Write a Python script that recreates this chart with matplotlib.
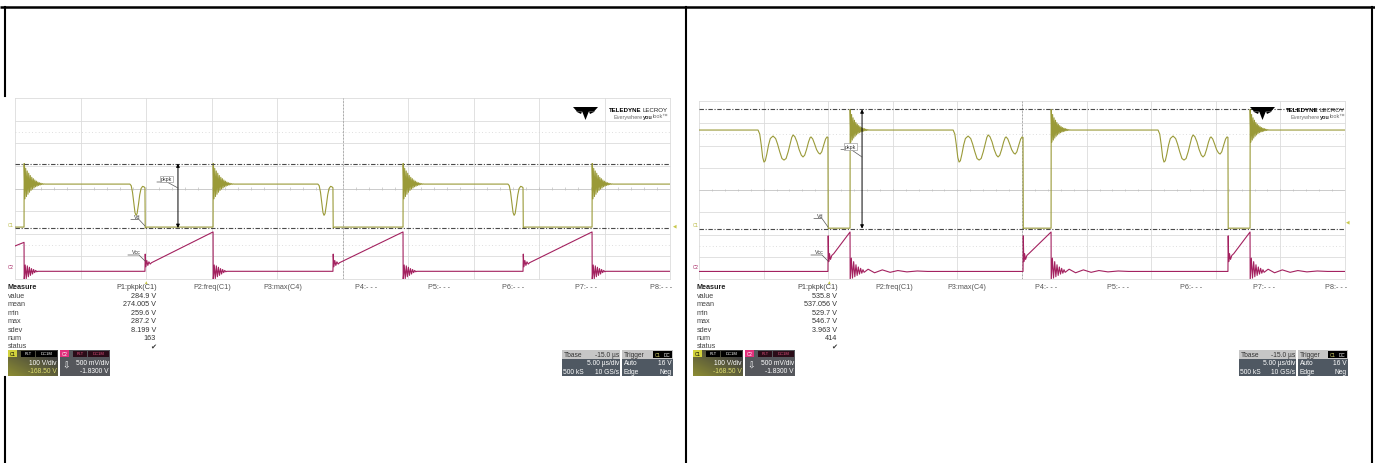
import numpy as np
import matplotlib
matplotlib.use("Agg")
import matplotlib.pyplot as plt
from matplotlib.patches import Rectangle, Polygon

plt.rcParams["font.family"] = ["Liberation Sans", "DejaVu Sans"]

W, H = 1375, 464

# ---- scope settings (both captures) ----
C1_VDIV, C1_OFFSET = 100.0, -168.50      # V/div, V
C2_VDIV, C2_OFFSET = 0.5, -1.8300        # V/div, V
T_DIV = 5.0                              # us/div, 10 divisions

# ---- left capture : C1 switch node, C2 Vcc ----
L_RISE = [0.69, 15.12, 29.62, 44.05]
L_FALL = [9.92, 24.27, 38.78]
L_C1_HIGH, L_C1_LOW, L_C1_MIN = 188.0, -2.0, -6.0
L_C1_RING = [90.9, -65, 70, -55, 58, -45, 48, -36, 38, -28, 30, -22, 24, -17,
             18, -12, 13, -9, 9, -6, 6, -4, 4, -2, 2, -1, 1, 0]
L_DIP_DT = [-1.15, -1.05, -0.95, -0.85, -0.76, -0.68, -0.60, -0.50, -0.40, -0.30, -0.18, -0.08, 0.0]
L_DIP_V = [188, 181, 152, 104, 62, 50, 58, 96, 140, 168, 178, 176, 172]
L_C2_START_T, L_C2_START_V = [0.0], [0.56]
L_C2_PEAK = [0.64, 0.87, 0.87, 0.87]
L_C2_FALL_DT = [0.0, 0.02, 0.07, 0.14, 0.22, 0.30, 0.40, 0.50]
L_C2_FALL_V = [0.0, 0.38, 0.10, 0.24, 0.13, 0.21, 0.16, 0.19]
L_C2_RING = [-0.22, 0.14, -0.16, 0.12, -0.12, 0.09, -0.09, 0.06, -0.06, 0.04, -0.03, 0.02, -0.01, 0.0]
L_STATS = ["284.9 V", "274.005 V", "259.6 V", "287.2 V", "8.199 V", "163", "\u2714"]

# ---- right capture ----
R_RISE = [11.69, 27.25, 42.65]
R_FALL = [9.98, 25.08, 40.94]
R_C1_HIGH, R_C1_LOW, R_C1_MIN = 438.0, -3.0, -5.0
R_C1_RING = [92.8, -54, 70, -45, 55, -36, 44, -28, 34, -22, 26, -16, 20, -12,
             15, -9, 11, -7, 8, -5, 6, -3, 4, -2, 2, -1, 1, 0]
R_OSC_DT = [-5.41, -5.28, -5.16, -5.05, -4.95, -4.85, -4.73, -4.60, -4.46, -4.25,
            -4.05, -3.90, -3.73, -3.56, -3.40, -3.24, -3.08, -2.93, -2.80, -2.70,
            -2.56, -2.40, -2.23, -2.06, -1.93, -1.80, -1.66, -1.50, -1.38, -1.31,
            -1.18, -1.03, -0.88, -0.73, -0.61, -0.48, -0.33, -0.18, -0.07, 0.0]
R_OSC_V = [438, 420, 370, 315, 294, 300, 330, 370, 400, 411,
           400, 375, 340, 310, 303, 310, 340, 375, 405, 416,
           408, 385, 350, 325, 317, 325, 350, 385, 404, 407,
           398, 375, 350, 335, 330, 340, 370, 398, 407, 405]
R_C2_START_T, R_C2_START_V = [0.0], [0.0]
R_C2_PEAK = [0.886, 0.886, 0.886]
R_C2_FALL_DT = [0.0, 0.02, 0.06, 0.12, 0.20, 0.30, 0.45]
R_C2_FALL_V = [0.0, 0.80, 0.22, 0.40, 0.27, 0.36, 0.40]
R_C2_RING = [-0.22, 0.30, -0.15, 0.22, -0.12, 0.15, -0.09, 0.10, -0.06, 0.07, -0.04, 0.04, -0.02]
R_C2_RIP_DT = [1.4, 1.9, 2.5, 3.1, 3.7, 4.4, 5.2, 6.0]
R_C2_RIP_V = [0.05, -0.03, 0.035, -0.02, 0.02, -0.01, 0.01, 0.0]
R_STATS = ["535.8 V", "537.056 V", "529.7 V", "546.7 V", "3.963 V", "414", "\u2714"]

STAT_NAMES = ["value", "mean", "min", "max", "sdev", "num", "status"]
PARAMS = ["P1:pkpk(C1)", "P2:freq(C1)", "P3:max(C4)", "P4:- - -", "P5:- - -",
          "P6:- - -", "P7:- - -", "P8:- - -"]

YEL = "#9a9a38"
MAG = "#a3215f"


def build_c1(rise, fall, start, high, low, vmin, ring, ring_dt, tdt, tv):
    t, v = [0.0], [start]
    ev = sorted([(x, "r") for x in rise] + [(x, "f") for x in fall])
    for te, kind in ev:
        if kind == "r":
            t += [te, te + 0.01]
            v += [low, high + ring[0]]
            for i, a in enumerate(ring[1:], 1):
                t.append(te + 0.01 + i * ring_dt)
                v.append(high + a)
        else:
            t += [te + d for d in tdt]
            v += list(tv)
            t += [te + 0.02, te + 0.12]
            v += [vmin, low]
    t.append(50.0)
    v.append(v[-1])
    return np.array(t), np.array(v)


def build_c2(rise, fall, st, sv, peaks, fdt, fv, ring, ring_dt, rdt=(), rv=()):
    t, v = list(st), list(sv)
    ev = sorted([(x, "r") for x in rise] + [(x, "f") for x in fall])
    k = 0
    for te, kind in ev:
        if kind == "f":
            t += [te + d for d in fdt]
            v += list(fv)
        else:
            t.append(te)
            v.append(peaks[k])
            k += 1
            for i, a in enumerate(ring):
                t.append(te + 0.01 + i * ring_dt)
                v.append(a)
            t += [te + d for d in rdt]
            v += list(rv)
    t.append(50.0)
    v.append(0.0)
    return np.array(t), np.array(v)


fig = plt.figure(figsize=(W / 100, H / 100), dpi=100)
fig.patch.set_facecolor("white")


def page_axes():
    a = fig.add_axes([0, 0, 1, 1], facecolor="none")
    a.set_xlim(0, W)
    a.set_ylim(H, 0)
    a.axis("off")
    return a


def px_rect(x0, y0, x1, y1):
    return [x0 / W, 1 - y1 / H, (x1 - x0) / W, (y1 - y0) / H]


bg = page_axes()
# table borders
bg.plot([0, W], [8, 8], color="black", lw=1.8, solid_capstyle="butt")
bg.plot([5, 5], [8, 97], color="black", lw=1.5)
bg.plot([5, 5], [378, H], color="black", lw=1.5)
bg.plot([686, 686], [8, H], color="black", lw=1.5)
bg.plot([1372, 1372], [8, H], color="black", lw=1.5)


def scope(x0, y0, x1, y1):
    rect = px_rect(x0, y0, x1, y1)
    g = fig.add_axes(rect, facecolor="none")
    g.set_xlim(0, 10)
    g.set_ylim(0, 8)
    g.axis("off")
    for i in range(11):
        g.plot([i, i], [0, 8], color="#dcdcdc", lw=0.6, clip_on=False)
    for j in range(9):
        g.plot([0, 10], [j, j], color="#dcdcdc", lw=0.6, clip_on=False)
    g.plot([5, 5], [0, 8], color="#a0a0a0", lw=0.6, ls=(0, (2, 2)))
    g.plot([0, 10], [4, 4], color="#c8c8c8", lw=0.6)
    g.vlines(np.arange(0.2, 10, 0.2), 3.95, 4.05, color="#c0c0c0", lw=0.5)
    for yy in (1.5, 6.5):
        g.plot([0, 10], [yy, yy], color="#d4d4d4", lw=0.6, ls=(0, (1, 3)))
    c1 = fig.add_axes(rect, facecolor="none")
    c1.set_xlim(0, 10 * T_DIV)
    c1.set_ylim(-C1_OFFSET - 4 * C1_VDIV, -C1_OFFSET + 4 * C1_VDIV)
    c1.axis("off")
    c2 = fig.add_axes(rect, facecolor="none")
    c2.set_xlim(0, 10 * T_DIV)
    c2.set_ylim(-C2_OFFSET - 4 * C2_VDIV, -C2_OFFSET + 4 * C2_VDIV)
    c2.axis("off")
    return c1, c2


def draw_traces(c1, c2, t1, v1, t2, v2, t_arrow):
    c2.plot(t2, v2, color=MAG, lw=0.8)
    c1.plot(t1, v1, color=YEL, lw=0.8)
    hi, lo = v1.max(), v1.min()
    for lvl in (hi, lo):
        c1.axhline(lvl, color="#4a4a4a", lw=0.8, ls=(0, (4, 1.5, 1, 1.5)))
    c1.annotate("", xy=(t_arrow, hi), xytext=(t_arrow, lo),
                arrowprops=dict(arrowstyle="<|-|>", color="black", lw=0.7,
                                mutation_scale=5, shrinkA=0, shrinkB=0))


# left capture
lc1, lc2 = scope(15, 99, 670, 280)
t, v = build_c1(L_RISE, L_FALL, L_C1_LOW, L_C1_HIGH, L_C1_LOW, L_C1_MIN,
                L_C1_RING, 0.058, L_DIP_DT, L_DIP_V)
t2, v2 = build_c2(L_RISE, L_FALL, L_C2_START_T, L_C2_START_V, L_C2_PEAK,
                  L_C2_FALL_DT, L_C2_FALL_V, L_C2_RING, 0.08)
draw_traces(lc1, lc2, t, v, t2, v2, 12.44)

# right capture
rc1, rc2 = scope(699, 102, 1345, 280)
t, v = build_c1(R_RISE, R_FALL, R_C1_HIGH, R_C1_HIGH, R_C1_LOW, R_C1_MIN,
                R_C1_RING, 0.055, R_OSC_DT, R_OSC_V)
t2, v2 = build_c2(R_RISE, R_FALL, R_C2_START_T, R_C2_START_V, R_C2_PEAK,
                  R_C2_FALL_DT, R_C2_FALL_V, R_C2_RING, 0.09, R_C2_RIP_DT, R_C2_RIP_V)
draw_traces(rc1, rc2, t, v, t2, v2, 12.62)

fg = page_axes()
FS = 5.2


def tag(x, y, s, ha="left", color="#333333", fs=4.0, **kw):
    fg.text(x, y, s, ha=ha, va="center", color=color, fontsize=fs, **kw)


def leader(pts):
    xs, ys = zip(*pts)
    fg.plot(xs, ys, color="#555555", lw=0.5)


def cursor_labels(dx, pk, vd, vcc, trig_x, right_mark):
    # pkpk, Vd and Vcc marker labels with leader lines
    tag(pk[0], pk[1], "pkpk", fs=3.8,
        bbox=dict(boxstyle="square,pad=0.15", fc="white", ec="#8a8a8a", lw=0.4))
    leader([(pk[0] - 4, pk[1] + 3), (pk[0] + 6, pk[1] + 3), pk[2]])
    tag(vd[0], vd[1], "Vd", fs=3.8)
    leader([(vd[0] - 3, vd[1] + 3), (vd[0] + 5, vd[1] + 3), vd[2]])
    tag(vcc[0], vcc[1], "Vcc", fs=3.8)
    leader([(vcc[0] - 4, vcc[1] + 3), (vcc[0] + 7, vcc[1] + 3), vcc[2]])
    tag(dx + 10.5, 225.5, "C1", ha="center", color="#b8b840", fs=3.3)
    tag(dx + 10.5, 268, "C2", ha="center", color=MAG, fs=3.3)
    tag(trig_x, 283, "\u25b2", ha="center", color="#c8c84a", fs=3.3)
    tag(right_mark[0], right_mark[1], "\u25c0", ha="center", color="#c8c84a", fs=3.3)


cursor_labels(0, (161, 180, (178, 189)), (134, 217.5, (145, 227)),
              (132, 253, (145, 262)), 145, (675, 225.5))
cursor_labels(685, (845, 147.5, (862, 158)), (817, 216.5, (828, 228)),
              (815, 253, (828, 262)), 828, (1348, 222))


def chain_left(anchor, s, **kw):
    # place a word directly to the left of an existing text
    return fg.annotate(s, xy=(0, 0.5), xycoords=anchor, xytext=(-0.6, 0),
                       textcoords="offset points", ha="right", va="center", **kw)


def draw_logo(x, y):
    fg.add_patch(Polygon([(x, y + 2), (x + 25, y + 2), (x + 21, y + 6.5), (x + 4, y + 6.5)],
                         closed=True, fc="black", ec="none"))
    fg.add_patch(Polygon([(x + 9, y + 6), (x + 16, y + 6), (x + 12.5, y + 15)],
                         closed=True, fc="black", ec="none"))
    fg.add_patch(Polygon([(x + 3, y + 6.5), (x + 9, y + 6.5), (x + 8, y + 9)],
                         closed=True, fc="black", ec="none"))
    fg.add_patch(Polygon([(x + 16, y + 6.5), (x + 22, y + 6.5), (x + 17, y + 9)],
                         closed=True, fc="black", ec="none"))
    lec = fg.text(x + 95, y + 4.5, "LECROY", fontsize=4.4, va="center", ha="right",
                  color="#222222")
    chain_left(lec, "TELEDYNE", fontsize=4.4, fontweight="bold", color="black")
    look = fg.text(x + 95, y + 11, "look\u2122", fontsize=4.0, va="center", ha="right",
                   color="#6a6a6a")
    you = fg.annotate("you", xy=(0, 0.5), xycoords=look, ha="right", va="center",
                      fontsize=4.0, fontweight="bold", color="#333333")
    fg.annotate("Everywhere", xy=(0, 0.5), xycoords=you, ha="right", va="center",
                fontsize=4.0, color="#6a6a6a")


draw_logo(573, 106)
draw_logo(1250, 106)


def measure_table(x0, p1_right, col_x):
    fg.text(x0, 288, "Measure", fontsize=FS, fontweight="bold", va="center", color="#222222")
    for i, name in enumerate(PARAMS):
        if i == 0:
            fg.text(p1_right, 288, name, fontsize=FS, va="center", ha="right", color="#444444")
        else:
            fg.text(col_x[i - 1], 288, name, fontsize=FS, va="center", color="#555555")


def stats(x0, right, values):
    for k, (name, val) in enumerate(zip(STAT_NAMES, values)):
        y = 296.5 + k * 8.4
        fg.text(x0, y, name, fontsize=FS, va="center", color="#444444")
        fg.text(right, y, val, fontsize=FS, va="center", ha="right", color="#333333")


measure_table(8, 157, [193, 263, 355, 428, 502, 575, 650])
stats(8, 156, L_STATS)
measure_table(697, 838, [875, 947, 1035, 1107, 1180, 1253, 1325])
stats(697, 837, R_STATS)


def box(x0, y0, x1, y1, fc, ec="none", lw=0):
    fg.add_patch(Rectangle((x0, y0), x1 - x0, y1 - y0, fc=fc, ec=ec, lw=lw))


def channel_boxes(x):
    # C1 descriptor with its yellow glow
    grad = np.linspace(0, 1, 50)[None, :] * 0.6 + np.linspace(1, 0, 26)[:, None] * 0.6
    grad = np.clip(grad, 0, 1)
    olive = np.array([0.55, 0.55, 0.2])
    dark = np.array([0.25, 0.25, 0.25])
    img = olive[None, None, :] * (1 - grad[..., None]) + dark[None, None, :] * grad[..., None]
    fg.imshow(img, extent=(x, x + 50, 377, 351), aspect="auto", zorder=1)
    box(x, 351, x + 9, 358, "#d2d23c")
    tag(x + 4.5, 354.5, "C1", ha="center", color="black", fs=3.3)
    box(x + 13, 351.5, x + 27, 357.5, "black")
    tag(x + 20, 354.5, "FLT", ha="center", color="white", fs=3.0)
    box(x + 28, 351.5, x + 49, 357.5, "black")
    tag(x + 38.5, 354.5, "DC1M", ha="center", color="white", fs=3.0)
    tag(x + 49, 363.5, "100 V/div", ha="right", color="white", fs=FS - 0.4)
    tag(x + 49, 372, "-168.50 V", ha="right", color="#e0e070", fs=FS - 0.4)
    # C2 descriptor
    c = x + 52
    box(c, 351, c + 50, 377, "#55575c")
    box(c, 351, c + 9, 358, "#e2307c")
    tag(c + 4.5, 354.5, "C2", ha="center", color="white", fs=3.3)
    box(c + 13, 351.5, c + 27, 357.5, "#2a0c18")
    tag(c + 20, 354.5, "FLT", ha="center", color="#e0507e", fs=3.0)
    box(c + 28, 351.5, c + 49, 357.5, "#2a0c18")
    tag(c + 38.5, 354.5, "DC1M", ha="center", color="#e0507e", fs=3.0)
    tag(c + 6, 366, "\u21e9", ha="center", color="white", fs=6.5)
    tag(c + 49, 363.5, "500 mV/div", ha="right", color="white", fs=FS - 0.4)
    tag(c + 49, 372, "-1.8300 V", ha="right", color="white", fs=FS - 0.4)


def time_boxes(x, x_mid, x_end):
    rows = [351, 359.7, 368.3, 377]
    for (a, b) in ((x, x_mid), (x_mid + 2, x_end)):
        box(a, rows[0], b, rows[1], "#c6c6c6")
        box(a, rows[1], b, rows[3], "#4f5862")
    f = FS - 0.4
    tag(x + 1.5, 355.3, "Tbase", color="#333333", fs=f)
    tag(x_mid - 1, 355.3, "-15.0 \u00b5s", ha="right", color="#333333", fs=f)
    tag(x_mid - 1, 364, "5.00 \u00b5s/div", ha="right", color="white", fs=f)
    tag(x + 1.5, 372.6, "500 kS", color="white", fs=f)
    tag(x_mid - 1, 372.6, "10 GS/s", ha="right", color="white", fs=f)
    t0 = x_mid + 2
    tag(t0 + 1.5, 355.3, "Trigger", color="#333333", fs=f)
    box(x_end - 20, 352, x_end - 11, 359, "black")
    tag(x_end - 15.5, 355.5, "C1", ha="center", color="#e0e070", fs=3.3)
    box(x_end - 10.5, 352, x_end - 0.5, 359, "black")
    tag(x_end - 5.5, 355.5, "DC", ha="center", color="white", fs=3.3)
    tag(t0 + 1.5, 364, "Auto", color="white", fs=f)
    tag(x_end - 1, 364, "16 V", ha="right", color="white", fs=f)
    tag(t0 + 1.5, 372.6, "Edge", color="white", fs=f)
    tag(x_end - 1, 372.6, "Neg", ha="right", color="white", fs=f)


channel_boxes(8)
channel_boxes(693)
time_boxes(562, 620, 673)
time_boxes(1239, 1296, 1348)

fig.savefig("out.png", dpi=100)
